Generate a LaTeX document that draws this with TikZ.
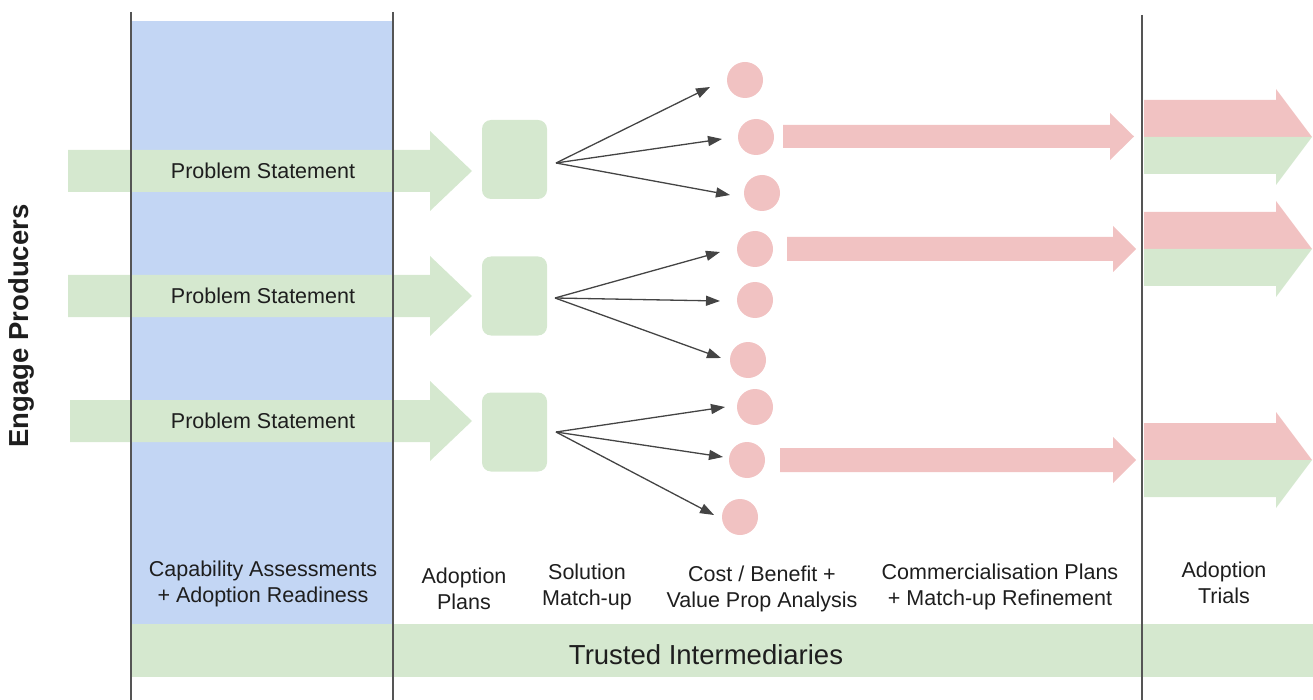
\documentclass[tikz,border=0pt]{standalone}
\usepackage{fontspec}
\setmainfont{Liberation Sans}
\usetikzlibrary{arrows.meta}
\definecolor{bluefill}{HTML}{C3D6F4}
\definecolor{greenfill}{HTML}{D5E8CF}
\definecolor{pinkfill}{HTML}{F1C2C2}
\definecolor{linegray}{HTML}{555555}
\definecolor{fangray}{HTML}{444444}
\definecolor{txt}{HTML}{1E1E1E}
% fat arrow: x-start, x-tip, y-centre, body half height, head half height, head length, colour
\newcommand{\fatarrow}[7]{%
  \fill[#7] ({#1},{#3-#4}) -- ({#2-#6},{#3-#4}) -- ({#2-#6},{#3-#5}) -- ({#2},{#3})
    -- ({#2-#6},{#3+#5}) -- ({#2-#6},{#3+#4}) -- ({#1},{#3+#4}) -- cycle;}
% two-coloured arrow on the right
\newcommand{\splitarrow}[1]{%
  \fill[pinkfill] (1144,{#1-37}) -- (1276,{#1-37}) -- (1276,{#1-48}) -- (1312,{#1}) -- (1144,{#1}) -- cycle;
  \fill[greenfill] (1144,{#1}) -- (1312,{#1}) -- (1276,{#1+48}) -- (1276,{#1+37}) -- (1144,{#1+37}) -- cycle;}
\begin{document}
\begin{tikzpicture}[x=1pt,y=-1pt,
  lbl/.style={align=center, text=txt, inner sep=0pt, font=\fontsize{21.5}{25.5}\selectfont},
  plan/.style={rectangle, rounded corners=9pt, fill=greenfill, minimum width=65pt, minimum height=79pt, inner sep=0pt},
  dot/.style={circle, fill=pinkfill, minimum size=36pt, inner sep=0pt},
  fan/.style={draw=fangray, line width=1.3pt, -{Triangle[length=14pt,width=10pt]}},
  divider/.style={draw=linegray, line width=2.2pt}]
\useasboundingbox (0,0) rectangle (1313,700);

% backgrounds
\fill[bluefill] (131,21) rectangle (393,625);
\fill[greenfill] (131,624) rectangle (1313,677);

% green input arrows
\fatarrow{68}{472}{171}{21}{40}{42}{greenfill}
\fatarrow{68}{472}{296}{21}{40}{42}{greenfill}
\fatarrow{70}{472}{421}{21}{40}{42}{greenfill}

% dividers
\draw[divider] (131,12) -- (131,700);
\draw[divider] (393,12) -- (393,700);
\draw[divider] (1142,15) -- (1142,700);

% problem statements
\node[lbl] (ps1) at (263,171) {Problem Statement};
\node[lbl] (ps2) at (263,296) {Problem Statement};
\node[lbl] (ps3) at (263,421) {Problem Statement};

% adoption plans
\node[plan] (sq1) at (514.5,159.5) {};
\node[plan] (sq2) at (514.5,296) {};
\node[plan] (sq3) at (514.5,432) {};

% options
\node[dot] (c1) at (745,80) {};
\node[dot] (c2) at (756,137) {};
\node[dot] (c3) at (762,193) {};
\node[dot] (c4) at (755,249) {};
\node[dot] (c5) at (755,300) {};
\node[dot] (c6) at (748,360) {};
\node[dot] (c7) at (755,407) {};
\node[dot] (c8) at (747,460) {};
\node[dot] (c9) at (740,517) {};

% fan-out connectors
\coordinate (o1) at (556,163);
\coordinate (o2) at (555,298);
\coordinate (o3) at (556,432);
\coordinate (t1) at (710,87);
\coordinate (t2) at (722,139);
\coordinate (t3) at (730,195);
\coordinate (t4) at (720,252);
\coordinate (t5) at (720,301);
\coordinate (t6) at (721,358);
\coordinate (t7) at (725,407);
\coordinate (t8) at (723,457);
\coordinate (t9) at (714,515);
\draw[fan] (o1) -- (t1);
\draw[fan] (o1) -- (t2);
\draw[fan] (o1) -- (t3);
\draw[fan] (o2) -- (t4);
\draw[fan] (o2) -- (t5);
\draw[fan] (o2) -- (t6);
\draw[fan] (o3) -- (t7);
\draw[fan] (o3) -- (t8);
\draw[fan] (o3) -- (t9);

% pink commercialisation arrows
\fatarrow{783}{1134}{136.5}{11.5}{23.5}{24}{pinkfill}
\fatarrow{787}{1136}{249}{12}{23}{23}{pinkfill}
\fatarrow{780}{1136}{460}{12}{23}{23}{pinkfill}

% adoption trial arrows
\splitarrow{137}
\splitarrow{249}
\splitarrow{460}

% side label
\node[rotate=90, text=txt, inner sep=0pt, font=\bfseries\fontsize{27.5}{30}\selectfont] (engage) at (21,326) {Engage Producers};

% stage labels
\node[lbl] (l1) at (263,584) {Capability Assessments\\+ Adoption Readiness};
\node[lbl] (l2) at (464,589) {Adoption\\Plans};
\node[lbl] (l3) at (587,587) {Solution\\Match-up};
\node[lbl] (l4) at (762,589) {Cost / Benefit +\\Value Prop Analysis};
\node[lbl] (l5) at (1000,587) {Commercialisation Plans\\+ Match-up Refinement};
\node[lbl] (l6) at (1224,583) {Adoption\\Trials};
\node[lbl, font=\fontsize{27.5}{30}\selectfont] (ti) at (706,655) {Trusted Intermediaries};
\end{tikzpicture}
\end{document}
